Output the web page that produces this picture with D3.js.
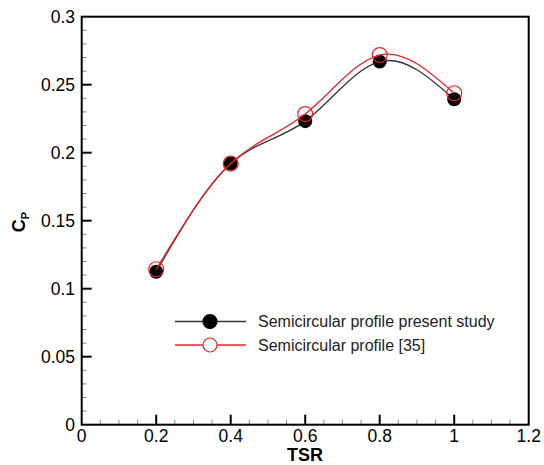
<!DOCTYPE html>
<html>
<head>
<meta charset="utf-8">
<script src="https://cdn.jsdelivr.net/npm/d3@7"></script>
<style>
  body { margin: 0; background: #fff; }
  svg { display: block; font-family: "Liberation Sans", Arial, sans-serif; }
</style>
</head>
<body>
<svg id="chart" width="544" height="465"></svg>
<script>
// data
const tsr = [0.2, 0.4, 0.6, 0.8, 1.0];
const cpPresent = [0.1125, 0.192, 0.2232, 0.267, 0.2393];
const cpRef35 = [0.1143, 0.192, 0.2284, 0.2718, 0.2437];
const xTicks = [0, 0.2, 0.4, 0.6, 0.8, 1, 1.2];
const yTicks = [0, 0.05, 0.1, 0.15, 0.2, 0.25, 0.3];
const seriesNames = ['Semicircular profile present study', 'Semicircular profile [35]'];

const svg = d3.select('#chart');
const plotL = 81.7, plotR = 528.7, plotT = 16.7, plotB = 424.7;

const x = d3.scaleLinear().domain([0, 1.2]).range([plotL, plotR]);
const y = d3.scaleLinear().domain([0, 0.3]).range([plotB, plotT]);

// minor ticks
const xMinor = d3.range(0, 1.2001, 0.05).filter(v => Math.abs(v * 5 - Math.round(v * 5)) > 1e-6);
const yMinor = d3.range(0, 0.3001, 0.01).filter(v => Math.abs(v * 20 - Math.round(v * 20)) > 1e-6);

svg.append('g').selectAll('line').data(xMinor).join('line')
    .attr('x1', d => x(d)).attr('x2', d => x(d))
    .attr('y1', plotB).attr('y2', plotB - 5)
    .attr('stroke', '#888').attr('stroke-width', 1);
svg.append('g').selectAll('line').data(yMinor).join('line')
    .attr('x1', plotL).attr('x2', plotL + 5)
    .attr('y1', d => y(d)).attr('y2', d => y(d))
    .attr('stroke', '#888').attr('stroke-width', 1);

// major ticks (pointing inward)
svg.append('g').selectAll('line').data(xTicks.slice(1, -1)).join('line')
    .attr('x1', d => x(d)).attr('x2', d => x(d))
    .attr('y1', plotB).attr('y2', plotB - 10)
    .attr('stroke', '#000').attr('stroke-width', 2);
svg.append('g').selectAll('line').data(yTicks.slice(1, -1)).join('line')
    .attr('x1', plotL).attr('x2', plotL + 10)
    .attr('y1', d => y(d)).attr('y2', d => y(d))
    .attr('stroke', '#000').attr('stroke-width', 2);

// frame
svg.append('rect')
    .attr('x', plotL).attr('y', plotT)
    .attr('width', plotR - plotL).attr('height', plotB - plotT)
    .attr('fill', 'none').attr('stroke', '#000').attr('stroke-width', 2);

// tick labels
svg.append('g').selectAll('text').data(xTicks).join('text')
    .attr('x', d => x(d)).attr('y', 442)
    .attr('text-anchor', 'middle')
    .attr('font-size', 17.5)
    .text(d => d3.format('')(d));
svg.append('g').selectAll('text').data(yTicks).join('text')
    .attr('x', 75).attr('y', d => y(d) + 6)
    .attr('text-anchor', 'end')
    .attr('font-size', 17.5)
    .text(d => d3.format('')(d));

// axis titles
svg.append('text')
    .attr('x', 305).attr('y', 461)
    .attr('text-anchor', 'middle')
    .attr('font-size', 18).attr('font-weight', 'bold')
    .text('TSR');

const yTitle = svg.append('text')
    .attr('transform', 'translate(25,222) rotate(-90)')
    .attr('text-anchor', 'middle')
    .attr('font-size', 18).attr('font-weight', 'bold');
yTitle.append('tspan').text('C');
yTitle.append('tspan').attr('font-size', 11).attr('dy', 4).text('P');

// curves
const line = d3.line()
    .x(d => x(d[0])).y(d => y(d[1]))
    .curve(d3.curveNatural);

const presentPts = tsr.map((t, i) => [t, cpPresent[i]]);
const refPts = tsr.map((t, i) => [t, cpRef35[i]]);

svg.append('path').datum(presentPts)
    .attr('d', line)
    .attr('fill', 'none').attr('stroke', '#333').attr('stroke-width', 1.3);
svg.append('g').selectAll('circle').data(presentPts).join('circle')
    .attr('cx', d => x(d[0])).attr('cy', d => y(d[1]))
    .attr('r', 7).attr('fill', '#000');

svg.append('path').datum(refPts)
    .attr('d', line)
    .attr('fill', 'none').attr('stroke', '#e8242a').attr('stroke-width', 1.3);
svg.append('g').selectAll('circle').data(refPts).join('circle')
    .attr('cx', d => x(d[0])).attr('cy', d => y(d[1]))
    .attr('r', 7.5).attr('fill', 'none')
    .attr('stroke', '#e8242a').attr('stroke-width', 1.2);

// legend
const legend = svg.append('g');
const legendRows = [
  {name: seriesNames[0], color: '#333', filled: true, yy: 321.5},
  {name: seriesNames[1], color: '#e8242a', filled: false, yy: 345}
];
legendRows.forEach(r => {
  legend.append('line')
      .attr('x1', 175).attr('x2', 246)
      .attr('y1', r.yy).attr('y2', r.yy)
      .attr('stroke', r.color).attr('stroke-width', 1.3);
  legend.append('circle')
      .attr('cx', 210).attr('cy', r.yy).attr('r', 7)
      .attr('fill', r.filled ? '#000' : '#fff')
      .attr('stroke', r.filled ? '#000' : r.color)
      .attr('stroke-width', 1.2);
  legend.append('text')
      .attr('x', 258).attr('y', r.yy + 5.5)
      .attr('font-size', 16).attr('fill', '#222')
      .text(r.name);
});
</script>
</body>
</html>
